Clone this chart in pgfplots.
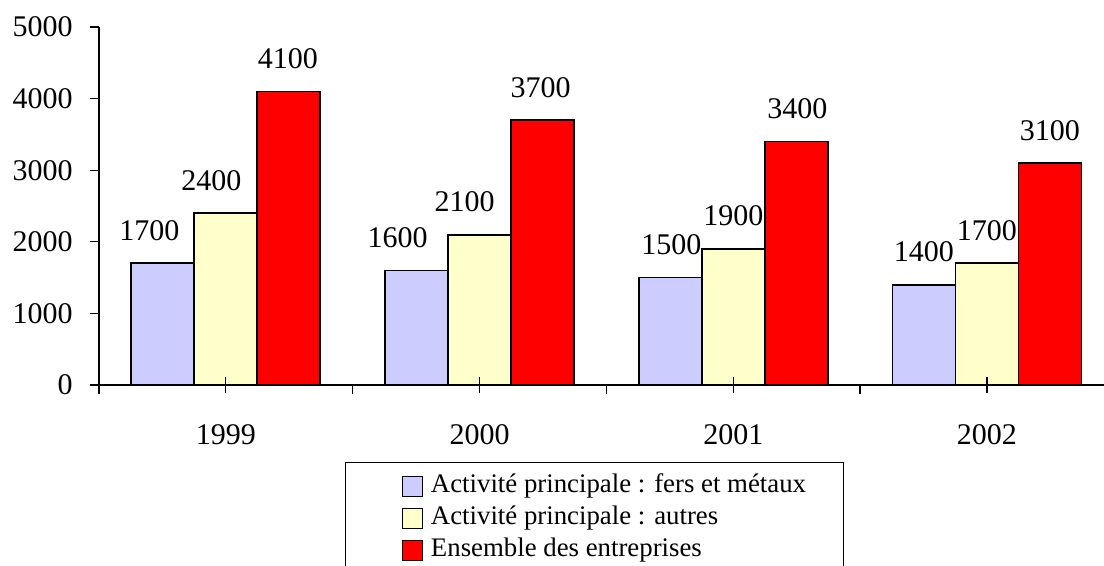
\documentclass[border=0pt]{standalone}
\usepackage{pgfplots}
\usepackage{pgfplotstable}
\pgfplotsset{compat=1.18}
\usepackage{fontspec}
\setmainfont{Liberation Serif}
\definecolor{cblue}{HTML}{CCCCFF}
\definecolor{cyel}{HTML}{FFFFCC}
\definecolor{cred}{HTML}{FF0000}

\pgfplotstableread{
x y dx
0 1700 -6.75
1 1600 -9.5
2 1500 0.5
3 1400 0
}\tblA
\pgfplotstableread{
x y dx
0 2400 -7.25
1 2100 -7.5
2 1900 0
3 1700 0
}\tblB
\pgfplotstableread{
x y dx
0 4100 -0.5
1 3700 -1
2 3400 0.5
3 3100 0
}\tblC

\pgfplotsset{sqlegend/.style={legend image code/.code={%
  \path (-9.5pt,0pt);
  \draw[fill=##1, draw=black, line width=0.6pt] (0pt,-6pt) rectangle (10pt,4pt);}}}

\begin{document}
\begin{tikzpicture}
\path[use as bounding box, clip] (0,0) rectangle (552pt,283pt);
\begin{axis}[
  at={(49.5pt,90.5pt)}, anchor=south west,
  scale only axis, width=507.4pt, height=179pt,
  xmin=-0.5, xmax=3.5, ymin=0, ymax=5000,
  axis x line*=bottom, axis y line*=left,
  axis line style={black, line width=0.75pt, -},
  ybar=0pt, bar width=31.5pt,
  ytick={0,1000,2000,3000,4000,5000},
  xtick={-0.5,0.5,1.5,2.5,3.5}, xticklabels={},
  extra x ticks={0,1,2,3},
  extra x tick labels={1999,2000,2001,2002},
  extra x tick style={tick align=center, major tick length=8pt,
     tick label style={anchor=base, inner sep=0pt, yshift=-26pt}},
  tick align=outside, major tick length=4.5pt,
  tick style={black, line width=0.65pt},
  /pgf/number format/assume math mode=true,
  /pgf/number format/1000 sep={},
  scaled y ticks=false,
  ticklabel style={font=\fontsize{15}{18}\selectfont},
  yticklabel style={anchor=east, inner sep=0pt, xshift=-8.5pt},
  axis on top,
  nodes near coords,
  visualization depends on={\thisrow{dx} \as \dx},
  nodes near coords style={font=\fontsize{15}{18}\selectfont, anchor=base,
     inner sep=0pt, yshift=11.5pt, xshift=\dx pt, black},
  legend cell align=left,
  legend style={at={(0.2424,-0.2151)}, anchor=north west, draw=black,
     line width=0.5pt, inner xsep=18.5pt, inner ysep=5.4pt, row sep=4.35pt,
     font=\fontsize{13.4}{16}\selectfont,
     nodes={inner sep=0pt},
     /tikz/every odd column/.style={column sep=4pt}},
]
\addplot[fill=cblue, draw=black, line width=0.9pt, sqlegend={cblue}] table[x=x,y=y] {\tblA};
\addplot[fill=cyel, draw=black, line width=0.9pt, sqlegend={cyel}] table[x=x,y=y] {\tblB};
\addplot[fill=cred, draw=black, line width=0.9pt, sqlegend={cred}] table[x=x,y=y] {\tblC};
\legend{Activité principale : fers et métaux, Activité principale : autres, Ensemble des entreprises}
\end{axis}
\end{tikzpicture}
\end{document}
